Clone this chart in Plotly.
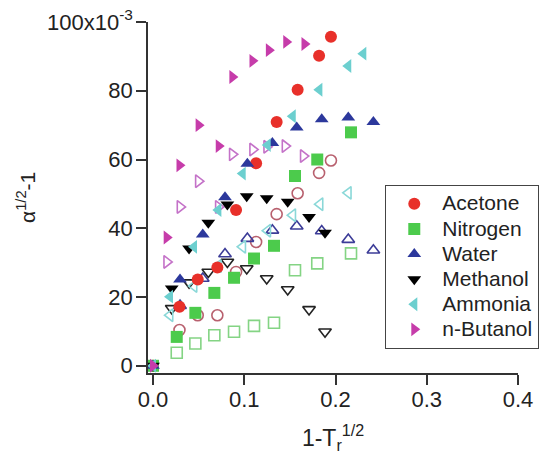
import plotly.graph_objects as go

# Reduced-temperature abscissa and alpha^(1/2)-1 (x10^-3) for each fluid.
# Filled series and open (second correlation) series share abscissae.
acetone_x = [0.0, 0.029, 0.049, 0.0705, 0.091, 0.113, 0.1355, 0.1585, 0.182, 0.195]
acetone_y = [0.0, 17.2, 25.1, 28.6, 45.3, 58.9, 70.9, 80.3, 90.2, 95.7]
acetone_open_x = [0.029, 0.049, 0.0705, 0.091, 0.113, 0.1355, 0.1585, 0.182, 0.195]
acetone_open_y = [10.4, 14.7, 14.7, 27.3, 36.0, 44.1, 50.2, 56.1, 59.7]

nitrogen_x = [0.0, 0.026, 0.0464, 0.0672, 0.0888, 0.1107, 0.1326, 0.1556, 0.180, 0.217]
nitrogen_y = [0.0, 8.4, 15.4, 21.2, 25.6, 31.2, 34.9, 55.2, 60.0, 67.9]
nitrogen_open_x = [0.026, 0.0464, 0.0672, 0.0888, 0.1107, 0.1326, 0.1556, 0.180, 0.217]
nitrogen_open_y = [3.8, 6.5, 8.9, 9.9, 11.6, 12.5, 27.8, 29.8, 32.7]

water_x = [0.0, 0.0296, 0.0545, 0.0789, 0.1034, 0.1308, 0.1575, 0.1849, 0.214, 0.2415]
water_y = [0.0, 25.1, 38.2, 49.0, 58.8, 64.8, 69.3, 71.7, 72.2, 70.9]
water_open_x = [0.0296, 0.0545, 0.0789, 0.1034, 0.1308, 0.1575, 0.1849, 0.214, 0.2415]
water_open_y = [17.5, 25.4, 32.5, 37.0, 39.4, 40.6, 39.2, 36.7, 33.6]

methanol_x = [0.0, 0.0205, 0.0395, 0.0606, 0.0815, 0.1027, 0.1246, 0.1476, 0.171, 0.1885]
methanol_y = [0.0, 22.5, 34.1, 41.6, 46.9, 49.3, 48.7, 47.7, 43.3, 38.7]
methanol_open_x = [0.0205, 0.0395, 0.0606, 0.0815, 0.1027, 0.1246, 0.1476, 0.171, 0.1885]
methanol_open_y = [16.7, 24.2, 27.3, 30.2, 28.3, 25.4, 22.2, 16.4, 9.9]

ammonia_x = [0.0, 0.0186, 0.0449, 0.0716, 0.0983, 0.1257, 0.1531, 0.1823, 0.214, 0.2305]
ammonia_y = [0.0, 20.1, 34.6, 45.3, 55.9, 64.2, 72.6, 80.3, 87.2, 90.8]
ammonia_open_x = [0.0186, 0.0449, 0.0716, 0.0983, 0.1257, 0.1531, 0.183, 0.214]
ammonia_open_y = [14.7, 23.2, 29.0, 34.6, 39.3, 43.8, 47.0, 50.3]

butanol_x = [0.0, 0.015, 0.029, 0.050, 0.072, 0.087, 0.109, 0.127, 0.146, 0.166]
butanol_y = [0.0, 37.3, 58.3, 70.0, 63.9, 84.0, 88.7, 91.8, 94.2, 93.6]
butanol_open_x = [0.015, 0.0296, 0.0497, 0.0716, 0.0869, 0.1092, 0.1246, 0.1447, 0.1647]
butanol_open_y = [30.2, 46.2, 53.7, 46.2, 61.5, 62.9, 63.7, 63.9, 61.0]

y_tickvals = [0, 20, 40, 60, 80, 100]
y_ticktext = ["0", "20", "40", "60", "80", "100x10<sup>-3</sup>"]
x_tickvals = [0.0, 0.1, 0.2, 0.3, 0.4]
x_ticktext = ["0.0", "0.1", "0.2", "0.3", "0.4"]

series = [
    # name, filled x/y, open x/y, symbol, filled colour, open colour
    ("Acetone", acetone_x, acetone_y, acetone_open_x, acetone_open_y, "circle", "#e8302a", "#b8606e"),
    ("Nitrogen", nitrogen_x, nitrogen_y, nitrogen_open_x, nitrogen_open_y, "square", "#4ccb4c", "#84d484"),
    ("Water", water_x, water_y, water_open_x, water_open_y, "triangle-up", "#2c389c", "#3c3c98"),
    ("Methanol", methanol_x, methanol_y, methanol_open_x, methanol_open_y, "triangle-down", "#000000", "#222222"),
    ("Ammonia", ammonia_x, ammonia_y, ammonia_open_x, ammonia_open_y, "triangle-left", "#6ccfcf", "#8ad8d8"),
    ("n-Butanol", butanol_x, butanol_y, butanol_open_x, butanol_open_y, "triangle-right", "#c63caa", "#c472c8"),
]

LABEL_PX = 21

fig = go.Figure()

# open markers underneath
for name, fx, fy, ox, oy, sym, fcol, ocol in series:
    fig.add_trace(go.Scatter(
        x=ox, y=oy, mode="markers", showlegend=False, name=name + " (open)",
        marker=dict(symbol=sym + "-open", size=11, color=ocol,
                    line=dict(width=1.6, color=ocol)),
    ))

# filled markers on top, these carry the legend
for name, fx, fy, ox, oy, sym, fcol, ocol in series:
    fig.add_trace(go.Scatter(
        x=fx, y=fy, mode="markers",
        name=f"<span style='font-size:{LABEL_PX}px'>{name}</span>",
        marker=dict(symbol=sym, size=12, color=fcol, line=dict(width=0)),
    ))

font_family = "Liberation Sans, Arial, sans-serif"

fig.update_layout(
    width=541, height=454,
    margin=dict(l=148, r=23, t=22, b=81, autoexpand=False),
    paper_bgcolor="white", plot_bgcolor="white",
    font=dict(family=font_family, size=22, color="#222222"),
    showlegend=True,
    legend=dict(
        x=0.6405, y=0.5356, xanchor="left", yanchor="top",
        bgcolor="white", bordercolor="#444444", borderwidth=1.3,
        font=dict(size=17, color="#222222"),
        itemsizing="trace", itemwidth=46,
    ),
    xaxis=dict(
        range=[-0.0055, 0.4], showgrid=False, zeroline=False, automargin=False,
        showline=True, linecolor="#333333", linewidth=1.5,
        ticks="outside", ticklen=10, tickwidth=1.5, tickcolor="#333333",
        tickvals=x_tickvals, ticktext=x_ticktext, ticklabelstandoff=-4,
        tickfont=dict(size=22),
        title=dict(text="1-T<sub>r</sub><sup>1/2</sup>", standoff=19,
                   font=dict(size=23)),
    ),
    yaxis=dict(
        range=[-2.1, 100], showgrid=False, zeroline=False, automargin=False,
        showline=True, linecolor="#333333", linewidth=1.5,
        ticks="outside", ticklen=10, tickwidth=1.5, tickcolor="#333333",
        tickvals=y_tickvals, ticktext=y_ticktext, ticklabelstandoff=-1,
        tickfont=dict(size=22),
    ),
    annotations=[dict(
        text="α<sup>1/2</sup>-1", textangle=-90, showarrow=False,
        xref="paper", yref="paper",
        x=(26 - 148) / 370, y=(373 - 198) / 351,
        xanchor="center", yanchor="middle",
        font=dict(size=21, color="#222222"),
    )],
)

fig.write_html("out.html")
